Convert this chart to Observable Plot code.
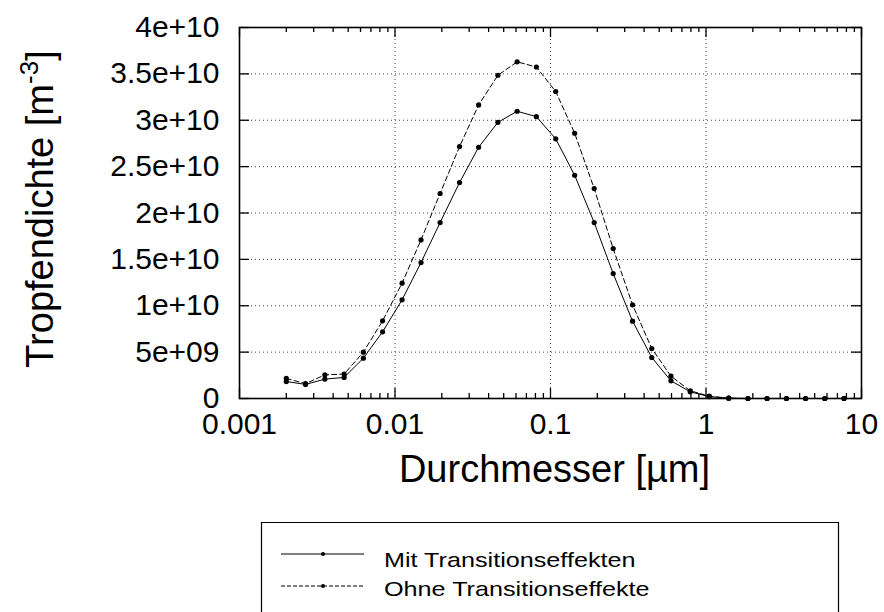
<!DOCTYPE html>
<html>
<head>
<meta charset="utf-8">
<script src="https://cdn.jsdelivr.net/npm/d3@7"></script>
<script src="https://cdn.jsdelivr.net/npm/@observablehq/plot@0.6"></script>
<style>
  html, body { margin: 0; padding: 0; background: white; overflow: hidden; }
  #chart svg { display: block; }
</style>
</head>
<body>
<div id="chart"></div>
<script>
// Diameter classes [µm]
const diameters = [0.002, 0.00266, 0.00354, 0.00471, 0.00626, 0.00832, 0.0111, 0.0147, 0.0195, 0.026,
  0.0345, 0.0459, 0.061, 0.0811, 0.108, 0.143, 0.191, 0.253, 0.337, 0.448,
  0.595, 0.792, 1.05, 1.4, 1.86, 2.47, 3.29, 4.37, 5.81, 7.72];
// Droplet density [m^-3], with transition effects
const mitTransition = [1.83e9, 1.52e9, 2.09e9, 2.27e9, 4.35e9, 7.19e9, 10.64e9, 14.66e9, 18.97e9, 23.28e9,
  27.09e9, 29.78e9, 30.97e9, 30.39e9, 28.0e9, 24.07e9, 18.97e9, 13.47e9, 8.34e9, 4.42e9,
  1.91e9, 0.72e9, 0.2e9, 0.03e9, 0, 0, 0, 0, 0, 0];
// Droplet density [m^-3], without transition effects
const ohneTransition = [2.16e9, 1.6e9, 2.55e9, 2.63e9, 5.0e9, 8.37e9, 12.43e9, 17.1e9, 22.1e9, 27.16e9,
  31.65e9, 34.85e9, 36.3e9, 35.74e9, 33.1e9, 28.6e9, 22.63e9, 16.16e9, 10.1e9, 5.39e9,
  2.41e9, 0.83e9, 0.25e9, 0.04e9, 0, 0, 0, 0, 0, 0];
const seriesNames = ["Mit Transitionseffekten", "Ohne Transitionseffekte"];

const xTickValues = [0.001, 0.01, 0.1, 1, 10];
const xTickLabels = ["0.001", "0.01", "0.1", "1", "10"];
const yTickValues = [0, 5e9, 1e10, 1.5e10, 2e10, 2.5e10, 3e10, 3.5e10, 4e10];
const yTickLabels = ["0", "5e+09", "1e+10", "1.5e+10", "2e+10", "2.5e+10", "3e+10", "3.5e+10", "4e+10"];
const xGridValues = [0.01, 0.1, 1];
const yGridValues = [5e9, 1e10, 1.5e10, 2e10, 2.5e10, 3e10, 3.5e10];
const minorMultipliers = [2, 3, 4, 5, 6, 7, 8, 9];
const decades = [0.001, 0.01, 0.1, 1];
const xLabel = "Durchmesser [µm]";

const xMinorTicks = decades.flatMap(d => minorMultipliers.map(m => d * m));

const rowsMit = diameters.map((x, i) => ({x, y: mitTransition[i], s: seriesNames[0]}));
const rowsOhne = diameters.map((x, i) => ({x, y: ohneTransition[i], s: seriesNames[1]}));

const W = 884, H = 520, mL = 239, mR = 23, mT = 27, mB = 122;
const innerH = H - mT - mB, innerW = W - mL - mR;
const gridStyle = {stroke: "#444", strokeWidth: 1, strokeDasharray: "1,3"};

const chart = Plot.plot({
  width: W, height: H,
  marginLeft: mL, marginRight: mR, marginTop: mT, marginBottom: mB,
  x: {type: "log", domain: [0.001, 10]},
  y: {domain: [0, 4e10]},
  style: {fontFamily: "'Liberation Sans', Arial, Helvetica, sans-serif", background: "white", color: "black", overflow: "visible"},
  marks: [
    Plot.ruleX(xGridValues, {x: d => d, ...gridStyle}),
    Plot.ruleY(yGridValues, {y: d => d, ...gridStyle}),
    // inward major ticks, bottom & top
    Plot.ruleX(xTickValues, {x: d => d, insetTop: innerH - 10, stroke: "black", strokeWidth: 1.3}),
    Plot.ruleX(xTickValues, {x: d => d, insetBottom: innerH - 10, stroke: "black", strokeWidth: 1.3}),
    // inward minor ticks
    Plot.ruleX(xMinorTicks, {x: d => d, insetTop: innerH - 5, stroke: "black", strokeWidth: 1.3}),
    Plot.ruleX(xMinorTicks, {x: d => d, insetBottom: innerH - 5, stroke: "black", strokeWidth: 1.3}),
    // inward y ticks, left & right
    Plot.ruleY(yTickValues, {y: d => d, insetRight: innerW - 10, stroke: "black", strokeWidth: 1.3}),
    Plot.ruleY(yTickValues, {y: d => d, insetLeft: innerW - 10, stroke: "black", strokeWidth: 1.3}),
    Plot.frame({stroke: "black", strokeWidth: 1.6}),
    Plot.axisX({ticks: xTickValues, tickSize: 0, tickPadding: 14, fontSize: 30, label: null,
      tickFormat: d => xTickLabels[xTickValues.indexOf(d)]}),
    Plot.axisY({ticks: yTickValues, tickSize: 0, tickPadding: 20, fontSize: 30, label: null,
      tickFormat: d => yTickLabels[yTickValues.indexOf(d)]}),
    Plot.line(rowsOhne, {x: "x", y: "y", stroke: "black", strokeWidth: 1, strokeDasharray: "5,3"}),
    Plot.line(rowsMit, {x: "x", y: "y", stroke: "black", strokeWidth: 1}),
    Plot.dot(rowsOhne, {x: "x", y: "y", r: 2.6, fill: "black"}),
    Plot.dot(rowsMit, {x: "x", y: "y", r: 2.6, fill: "black"}),
    Plot.text([xLabel], {text: d => d, frameAnchor: "bottom", dx: 4, dy: 83, fontSize: 38, fill: "black"})
  ]
});

const svg = d3.select(chart);
const yt = svg.append("text")
  .attr("transform", "translate(52.5,209) rotate(-90)")
  .attr("text-anchor", "middle")
  .attr("font-size", 38)
  .attr("fill", "black");
yt.append("tspan").text("Tropfendichte [m");
yt.append("tspan").attr("font-size", 26).attr("dy", -15).text("-3");
yt.append("tspan").attr("dy", 15).text("]");

document.getElementById("chart").appendChild(chart);

// Legend (below the plot SVG)
const leg = d3.select("#chart").append("svg")
  .attr("width", W).attr("height", 92)
  .style("display", "block")
  .style("font-family", "'Liberation Sans', Arial, Helvetica, sans-serif");
leg.append("path")
  .attr("d", "M261.5,120V2.5H838.5V120")
  .attr("fill", "none").attr("stroke", "black").attr("stroke-width", 1.2);
const entries = [
  {name: seriesNames[0], dash: null, ly: 34, ty: 47.3},
  {name: seriesNames[1], dash: "4,2", ly: 66, ty: 76}
];
entries.forEach(e => {
  leg.append("line").attr("x1", 281).attr("x2", 364).attr("y1", e.ly).attr("y2", e.ly)
    .attr("stroke", "black").attr("stroke-width", 1).attr("stroke-dasharray", e.dash);
  leg.append("circle").attr("cx", 323).attr("cy", e.ly).attr("r", 2).attr("fill", "black");
  leg.append("text").attr("transform", `translate(384,${e.ty}) scale(1.26,1)`)
    .attr("font-size", 20).attr("fill", "black").text(e.name);
});
</script>
</body>
</html>
